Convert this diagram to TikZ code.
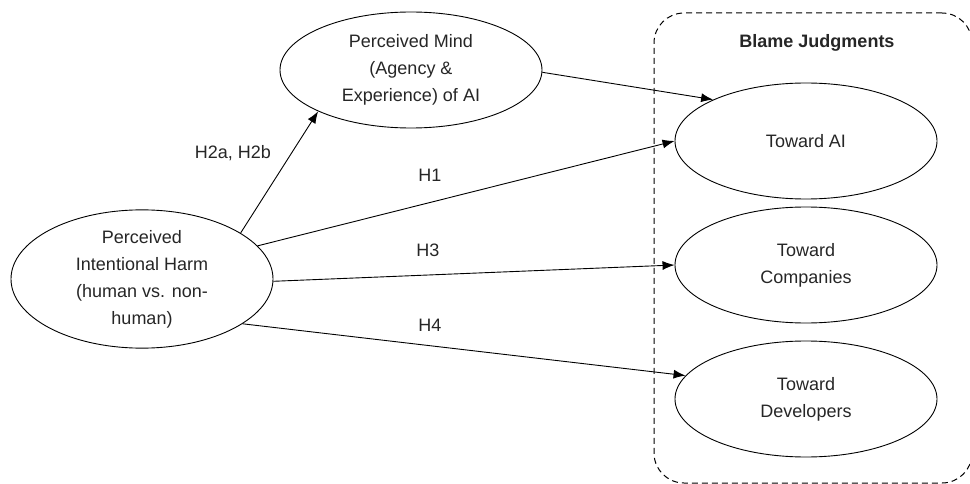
\documentclass[tikz,border=0pt]{standalone}
\usepackage{fontspec}
\setmainfont{Liberation Sans}
\usetikzlibrary{shapes.geometric,arrows.meta}
\begin{document}
\begin{tikzpicture}[x=1pt,y=-1pt,
  oval/.style={draw, line width=0.9pt, ellipse, minimum width=262pt, minimum height=116pt, inner sep=0pt, align=center, font=\fontsize{18}{27}\selectfont, text=black!85},
  lbl/.style={font=\fontsize{18}{22}\selectfont, text=black!85},
  arr/.style={line width=0.9pt, -{Latex[length=12pt,width=9pt]}}
]
\useasboundingbox (0,0) rectangle (970,484);
\node[draw, dash pattern=on 6pt off 4pt, line width=1pt, rounded corners=30pt, minimum width=318pt, minimum height=470pt, inner sep=0pt] (box) at (813,248) {};
\node[font=\bfseries\fontsize{18}{22}\selectfont, text=black!85] (title) at (817,43) {Blame Judgments};
\node[oval] (harm) at (142,279) {Perceived\\Intentional Harm\\(human vs. non-\\human)};
\node[oval] (mind) at (411,70) {Perceived Mind\\(Agency \&\\Experience) of AI};
\node[oval] (ai) at (806,141) {Toward AI};
\node[oval] (comp) at (806,265) {Toward\\Companies};
\node[oval] (dev) at (806,399) {Toward\\Developers};
\draw[arr] (harm.25) -- (mind.204);
\draw[arr] (mind.-1) -- (ai.156);
\draw[arr] (harm.16) -- (ai.180);
\draw[arr] (harm.-1) -- (comp.180);
\draw[arr] (harm.-24) -- (dev.169);
\node[lbl] (l2) at (233,153) {H2a, H2b};
\node[lbl] (l1) at (430,175) {H1};
\node[lbl] (l3) at (428,250) {H3};
\node[lbl] (l4) at (430,325) {H4};
\end{tikzpicture}
\end{document}
